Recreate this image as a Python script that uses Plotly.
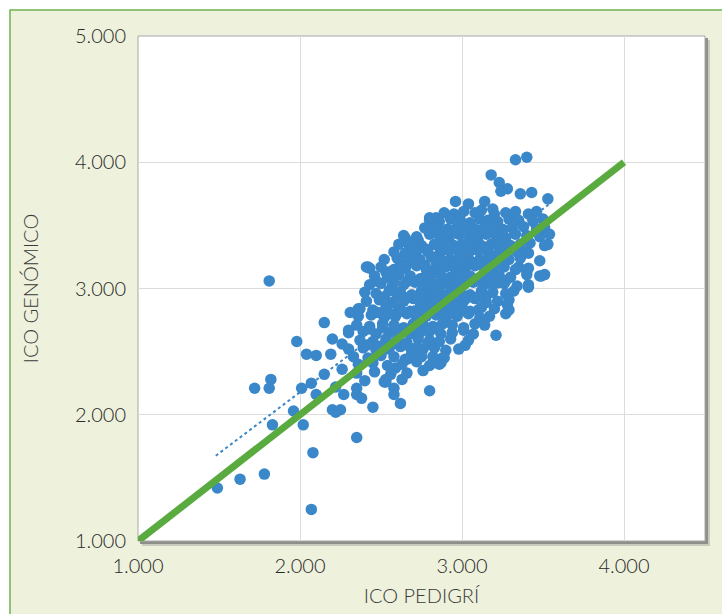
import plotly.graph_objects as go

# ---------------- data ----------------
# ICO PEDIGRÍ (x) and ICO GENÓMICO (y) for each animal, written row by row
ico_pedigri = [
    # isolated points, upper part
    3330, 3400, 3180, 3230, 3280, 3240, 3360, 3430, 3530, 3140, 3190, 3460, 2960, 3040,
    # upper-left edge
    2420, 2550, 2630, 2650, 2670, 2730, 2700, 2800, 2840, 2810, 2470, 2530,
    # right edge
    3530, 3400, 3490, 3400, 3350, 3410, 3270, 3190, 3280, 3280, 3270, 3210, 3020, 3150,
    3100, 2800, 2750, 2880, 2870, 2690, 2650, 2590, 2530, 2580, 2800, 3510,
    # lower-left scatter
    1810, 1490, 1630, 1780, 1720, 1820, 1810, 1830, 1980, 2020, 2080, 2070, 2350, 2450,
    2620, 2220, 2200, 2250, 2010, 2070, 2100, 2220, 2270, 2350, 2350, 2380, 2530, 2580,
    1960, 2150, 2200, 2260, 2310, 2360, 2040, 2100, 2190, 2150, 2260, 2300, 2410,
    # dense core
    2890, 2950, 3010, 3080, 3120, 3200, 3270, 3330, 3410,
    2800, 2860, 2930, 2990, 3050, 3110, 3160, 3220, 3290, 3350, 3440, 3500,
    2770, 2840, 2910, 2970, 3020, 3080, 3140, 3190, 3250, 3310, 3380, 3460, 3510,
    2640, 2720, 2800, 2860, 2920, 2980, 3040, 3100, 3150, 3210, 3270, 3330, 3400, 3480, 3540,
    2610, 2680, 2750, 2830, 2890, 2950, 3000, 3060, 3120, 3180, 3240, 3300, 3360, 3420, 3510,
    2580, 2650, 2720, 2790, 2860, 2920, 2980, 3040, 3100, 3160, 3220, 3280, 3340, 3410,
    2520, 2600, 2670, 2740, 2810, 2870, 2930, 2990, 3050, 3110, 3170, 3230, 3290, 3360, 3480,
    2430, 2500, 2580, 2650, 2720, 2780, 2840, 2900, 2960, 3020, 3080, 3140, 3200, 3260, 3330, 3410,
    2460, 2540, 2610, 2680, 2750, 2810, 2870, 2930, 2990, 3050, 3110, 3170, 3230, 3300, 3400, 3480,
    2430, 2500, 2570, 2640, 2710, 2770, 2830, 2890, 2950, 3010, 3070, 3130, 3190, 3260, 3340, 3410,
    2400, 2470, 2550, 2620, 2690, 2750, 2810, 2870, 2930, 2990, 3050, 3120, 3190, 3270, 3320,
    2410, 2490, 2570, 2640, 2700, 2770, 2830, 2890, 2950, 3010, 3080, 3150, 3220, 3290,
    2370, 2450, 2530, 2610, 2680, 2740, 2800, 2860, 2920, 2980, 3050, 3120, 3200, 3290,
    2360, 2440, 2520, 2590, 2660, 2720, 2780, 2840, 2900, 2970, 3040, 3110, 3170,
    2350, 2430, 2510, 2580, 2640, 2700, 2760, 2820, 2880, 2940, 3010, 3080, 3140,
    2300, 2390, 2470, 2550, 2620, 2680, 2740, 2800, 2870, 2940, 3010, 3070,
    2370, 2450, 2530, 2600, 2660, 2730, 2800, 2860, 2930, 3040,
    2300, 2390, 2470, 2550, 2620, 2690, 2760, 2830, 2900, 2980,
    2330, 2420, 2500, 2580, 2660, 2740, 2820, 2890,
    2360, 2450, 2540, 2630, 2720, 2800, 2860,
    2350, 2460, 2560, 2660, 2760,
    2400, 2520, 2630,
    # centre, between the rows above
    2870, 2940, 3010, 3070, 3130, 3190, 3250,
    2700, 2780, 2860, 2920, 2980, 3040, 3100, 3160, 3230,
    2620, 2700, 2770, 2840, 2900, 2960, 3020, 3090, 3150, 3220,
    2580, 2660, 2740, 2800, 2860, 2920, 2980, 3040, 3100, 3160, 3220,
    2520, 2600, 2660, 2720, 2780, 2840, 2900, 2960, 3030, 3100,
    2480, 2560, 2630, 2700, 2760, 2820, 2880, 2950, 3020,
    2430, 2510, 2590, 2650, 2710, 2780, 2850,
    2420, 2500, 2580, 2650, 2720, 2790,
]
ico_genomico = [
    4020, 4040, 3900, 3840, 3790, 3770, 3750, 3760, 3710, 3690, 3630, 3610, 3690, 3670,
    3170, 3130, 3170, 3400, 3350, 3380, 3280, 3560, 3560, 3450, 3060, 3130,
    3350, 3290, 3100, 3140, 3170, 3010, 3060, 3090, 2950, 2870, 2800, 2630, 2550, 2940,
    2830, 2560, 2460, 2450, 2410, 2490, 2440, 2370, 2280, 2210, 2190, 3110,
    3060, 1420, 1490, 1530, 2210, 2280, 2210, 1920, 2580, 1920, 1700, 1250, 1820, 2060,
    2090, 2020, 2040, 2040, 2210, 2250, 2160, 2220, 2160, 2210, 2160, 2130, 2260, 2160,
    2030, 2730, 2600, 2560, 2810, 2840, 2480, 2470, 2480, 2320, 2360, 2670, 3170,
    3600, 3590, 3610, 3600, 3620, 3590, 3600, 3610, 3590,
    3540, 3530, 3550, 3540, 3520, 3550, 3540, 3530, 3550, 3540, 3530, 3550,
    3480, 3490, 3470, 3480, 3500, 3470, 3480, 3490, 3470, 3480, 3490, 3470, 3480,
    3420, 3410, 3430, 3420, 3400, 3430, 3420, 3410, 3430, 3420, 3400, 3430, 3420, 3410, 3430,
    3350, 3360, 3340, 3350, 3370, 3340, 3350, 3360, 3340, 3350, 3370, 3340, 3350, 3360, 3340,
    3290, 3280, 3300, 3290, 3270, 3300, 3290, 3280, 3300, 3290, 3270, 3300, 3290, 3280,
    3230, 3240, 3220, 3230, 3250, 3220, 3230, 3240, 3220, 3230, 3250, 3220, 3230, 3240, 3220,
    3160, 3170, 3150, 3160, 3180, 3150, 3160, 3170, 3150, 3160, 3180, 3150, 3160, 3170, 3150, 3160,
    3100, 3090, 3110, 3100, 3080, 3110, 3100, 3090, 3110, 3100, 3080, 3110, 3100, 3090, 3110, 3100,
    3030, 3040, 3020, 3030, 3050, 3020, 3030, 3040, 3020, 3030, 3050, 3020, 3030, 3040, 3020, 3030,
    2970, 2960, 2980, 2970, 2950, 2980, 2970, 2960, 2980, 2970, 2950, 2980, 2970, 2960, 2980,
    2900, 2910, 2890, 2900, 2920, 2890, 2900, 2910, 2890, 2900, 2920, 2890, 2900, 2910,
    2840, 2830, 2850, 2840, 2820, 2850, 2840, 2830, 2850, 2840, 2820, 2850, 2840, 2830,
    2780, 2790, 2770, 2780, 2800, 2770, 2780, 2790, 2770, 2780, 2800, 2770, 2780,
    2710, 2700, 2720, 2710, 2690, 2720, 2710, 2700, 2720, 2710, 2690, 2720, 2710,
    2650, 2660, 2640, 2650, 2670, 2640, 2650, 2660, 2640, 2650, 2670, 2640,
    2590, 2580, 2600, 2590, 2570, 2600, 2590, 2580, 2600, 2590,
    2520, 2530, 2510, 2520, 2540, 2510, 2520, 2530, 2510, 2520,
    2460, 2450, 2470, 2460, 2440, 2470, 2460, 2450,
    2400, 2410, 2390, 2400, 2420, 2390, 2400,
    2330, 2340, 2320, 2330, 2350,
    2270, 2260, 2280,
    3450, 3460, 3440, 3450, 3470, 3440, 3450,
    3320, 3310, 3330, 3320, 3300, 3330, 3320, 3310, 3330,
    3195, 3205, 3185, 3195, 3215, 3185, 3195, 3205, 3185, 3195,
    3065, 3055, 3075, 3065, 3045, 3075, 3065, 3055, 3075, 3065, 3045,
    2935, 2945, 2925, 2935, 2955, 2925, 2935, 2945, 2925, 2935,
    2810, 2800, 2820, 2810, 2790, 2820, 2810, 2800, 2820,
    2680, 2690, 2670, 2680, 2700, 2670, 2680,
    2555, 2545, 2565, 2555, 2535, 2565,
]

# reference line (1:1) and dotted trend line
ref_line_x = [1000, 4000]
ref_line_y = [1000, 4000]
trend_x = [1480, 3540]
trend_y = [1675, 3670]

x_ticks = [1000, 2000, 3000, 4000]
y_ticks = [1000, 2000, 3000, 4000, 5000]
x_range = [1000, 4500]
y_range = [1000, 5000]

x_title = "ICO PEDIGRÍ"
y_title = "ICO GENÓMICO"

# ---------------- figure ----------------
W, H = 722, 614
ML, MR, MT, MB = 138, 17, 36, 73
PW, PH = W - ML - MR, H - MT - MB

def px_to_paper_x(px):
    return (px - ML) / PW

def px_to_paper_y(py):
    return (H - MB - py) / PH

blue = "#3a87c9"
green = "#5aab3f"

fig = go.Figure()
fig.add_trace(go.Scatter(
    x=ico_pedigri, y=ico_genomico, mode="markers",
    marker=dict(size=11.5, color=blue, line=dict(width=0)),
    showlegend=False, hoverinfo="x+y",
))
fig.add_trace(go.Scatter(
    x=trend_x, y=trend_y, mode="lines",
    line=dict(color=blue, width=2, dash="dot"),
    showlegend=False, hoverinfo="skip",
))
fig.add_trace(go.Scatter(
    x=ref_line_x, y=ref_line_y, mode="lines",
    line=dict(color=green, width=7),
    showlegend=False, hoverinfo="skip",
))

shapes = [
    # outer green panel
    dict(type="rect", xref="paper", yref="paper", layer="below",
         x0=px_to_paper_x(10), x1=px_to_paper_x(W + 10),
         y0=px_to_paper_y(H + 10), y1=px_to_paper_y(10),
         fillcolor="#eef1dc", line=dict(color="#6fb34f", width=1.5)),
    # soft shadow of the plot area
    dict(type="rect", xref="paper", yref="paper", layer="below",
         x0=px_to_paper_x(ML + 4), x1=px_to_paper_x(ML + PW + 5),
         y0=px_to_paper_y(MT + PH + 5), y1=px_to_paper_y(MT + 4),
         fillcolor="#c9cbbd", line=dict(width=0)),
    dict(type="rect", xref="paper", yref="paper", layer="below",
         x0=px_to_paper_x(ML + 2), x1=px_to_paper_x(ML + PW + 3),
         y0=px_to_paper_y(MT + PH + 3), y1=px_to_paper_y(MT + 2),
         fillcolor="#8e8f88", line=dict(width=0)),
    # white plot area
    dict(type="rect", xref="paper", yref="paper", layer="below",
         x0=0, x1=1, y0=0, y1=1,
         fillcolor="#ffffff", line=dict(color="#a8a8a8", width=1)),
]

font_family = "Lato, 'Open Sans', sans-serif"
text_color = "#2a2a2a"

fig.update_layout(
    width=W, height=H,
    margin=dict(l=ML, r=MR, t=MT, b=MB),
    paper_bgcolor="#ffffff",
    plot_bgcolor="rgba(0,0,0,0)",
    separators=",.",
    shapes=shapes,
    font=dict(family=font_family, size=20, color=text_color, weight=300),
    xaxis=dict(
        range=x_range, tickvals=x_ticks, tickformat=",.0f",
        showgrid=True, gridcolor="#dcdcdc", gridwidth=1, zeroline=False,
        showline=False, ticks="outside", ticklen=7, tickcolor="rgba(0,0,0,0)",
        tickfont=dict(size=20, color=text_color, weight=300),
        title=dict(text=x_title, font=dict(size=20, color="#3a3a3a", weight=300), standoff=12),
        fixedrange=True,
    ),
    yaxis=dict(
        range=y_range, tickvals=y_ticks, tickformat=",.0f",
        showgrid=True, gridcolor="#dcdcdc", gridwidth=1, zeroline=False,
        showline=False, ticks="outside", ticklen=7, tickcolor="rgba(0,0,0,0)",
        tickfont=dict(size=20, color=text_color, weight=300),
        title=dict(text=y_title, font=dict(size=20, color="#3a3a3a", weight=300), standoff=30),
        fixedrange=True,
    ),
)

fig.write_html("out.html")
